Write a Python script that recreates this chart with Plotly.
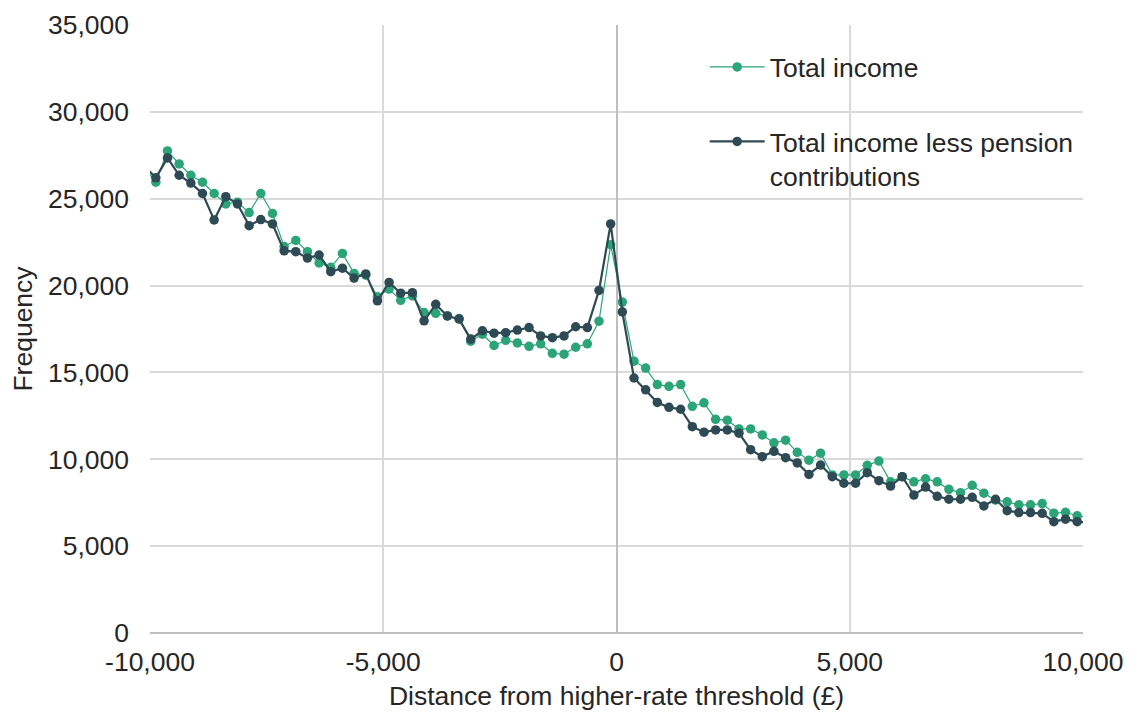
import plotly.graph_objects as go

# Bin centres (£ distance from higher-rate threshold)
distance = list(range(-10125, 10126, 250))

total_income = [
    26800, 25950, 27750, 27000, 26350, 25950, 25300, 24700, 24800, 24200,
    25300, 24150, 22250, 22600, 21950, 21300, 21050, 21850, 20700, 20600,
    19350, 19800, 19150, 19400, 18450, 18400, 18250, 18100, 16800, 17200,
    16550, 16850, 16700, 16500, 16650, 16100, 16050, 16450, 16650, 17950,
    22350, 19050, 15650, 15250, 14300, 14200, 14300, 13050, 13250, 12300,
    12250, 11750, 11750, 11400, 10950, 11100, 10400, 9950, 10350, 9100,
    9100, 9100, 9650, 9900, 8700, 9000, 8700, 8880, 8700, 8270,
    8080, 8500, 8050, 7650, 7550, 7380, 7380, 7450, 6900, 6950,
    6750, 6650,
]

total_income_less_pension = [
    26900, 26200, 27350, 26350, 25900, 25300, 23780, 25120, 24700, 23450,
    23800, 23550, 22000, 21950, 21580, 21760, 20800, 21000, 20430, 20670,
    19120, 20180, 19560, 19590, 17970, 18920, 18250, 18070, 16920, 17400,
    17260, 17290, 17440, 17580, 17100, 17000, 17100, 17630, 17580, 19720,
    23550, 18480, 14680, 14000, 13270, 12990, 12880, 11880, 11560, 11690,
    11690, 11500, 10550, 10150, 10460, 10090, 9790, 9130, 9670, 9000,
    8620, 8620, 9230, 8770, 8460, 9000, 7940, 8400, 7870, 7700,
    7700, 7810, 7310, 7700, 7040, 6930, 6930, 6890, 6410, 6550,
    6410, 6350,
]

x_tickvals = [-10000, -5000, 0, 5000, 10000]
x_ticktext = ["-10,000", "-5,000", "0", "5,000", "10,000"]
y_tickvals = [0, 5000, 10000, 15000, 20000, 25000, 30000, 35000]
y_ticktext = ["0", "5,000", "10,000", "15,000", "20,000", "25,000", "30,000", "35,000"]

GREEN = "#2BA477"
DARK = "#2E4A54"
TEXT = "#262626"
GRID = "#D9D9D9"
FS = 26.5

fig = go.Figure()
fig.add_trace(go.Scatter(
    x=distance, y=total_income, mode="lines+markers", name="Total income",
    line=dict(color=GREEN, width=1.2), marker=dict(color=GREEN, size=9.5),
    legendgroup="a",
))
fig.add_trace(go.Scatter(
    x=distance, y=total_income_less_pension, mode="lines+markers",
    name="Total income less pension<br>contributions",
    line=dict(color=DARK, width=2.2), marker=dict(color=DARK, size=9.5),
    legendgroup="b",
))

fig.update_layout(
    width=1117, height=703,
    margin=dict(l=142, r=42, t=17, b=78, autoexpand=False),
    paper_bgcolor="white", plot_bgcolor="white",
    font=dict(family="Liberation Sans, Arial, sans-serif", size=FS, color=TEXT),
    showlegend=True,
    legend=dict(
        x=0.5945, y=0.97, xanchor="left", yanchor="top",
        bgcolor="rgba(0,0,0,0)", font=dict(size=FS, color=TEXT),
        traceorder="grouped", tracegroupgap=37, itemwidth=55, valign="top",
    ),
)
fig.update_xaxes(
    range=[-10000, 10000], tickvals=x_tickvals, ticktext=x_ticktext,
    showgrid=True, gridcolor=GRID, gridwidth=1.5,
    zeroline=True, zerolinecolor="#BFBFBF", zerolinewidth=2,
    showline=False, ticks="", ticklabelstandoff=10, automargin=False,
    tickfont=dict(size=FS, color=TEXT),
    title=dict(text="Distance from higher-rate threshold (£)", standoff=28,
               font=dict(size=FS, color=TEXT)),
)
fig.update_yaxes(
    range=[0, 35000], tickvals=y_tickvals, ticktext=y_ticktext,
    showgrid=True, gridcolor=GRID, gridwidth=1.5,
    zeroline=True, zerolinecolor="#BFBFBF", zerolinewidth=2,
    showline=False, ticks="", ticklabelstandoff=20, automargin=False,
    tickfont=dict(size=FS, color=TEXT),
    title=dict(text="Frequency", standoff=14, font=dict(size=FS, color=TEXT)),
)

fig.write_html("out.html")
